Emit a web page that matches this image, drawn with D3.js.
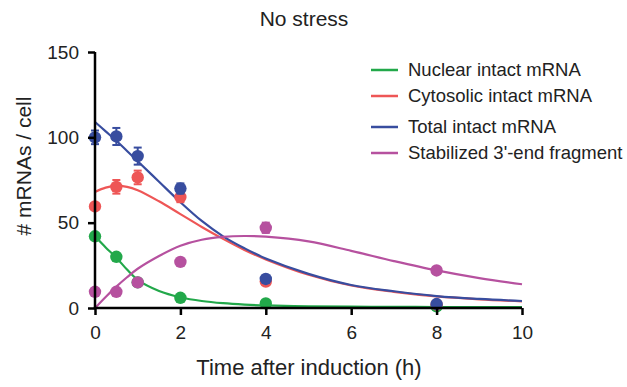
<!DOCTYPE html>
<html>
<head>
<script src="https://d3js.org/d3.v7.min.js"></script>
<style>
  body { margin: 0; background: #fff; }
  text { font-family: "Liberation Sans", Arial, sans-serif; fill: #222; }
</style>
</head>
<body>
<script>
// measured points
const timePoints = [0, 0.5, 1, 2, 4, 8];
const nuclear   = [42, 30, 15, 6, 2.7, 1];
const cytosolic = [59.5, 71, 76.5, 65, 15.5, 2];
const total     = [100, 100.5, 89, 70, 17, 2.3];
const fragment  = [9.5, 9.5, 15, 27, 47, 22];
const cytosolicErr = [2, 4, 4, 3, 1, 0];
const totalErr     = [4, 5, 5, 3, 1, 0];
const fragmentErr  = [0, 0, 0, 0, 3, 0];

// fitted curves
const curveTimes = [0, 0.25, 0.5, 0.75, 1, 1.5, 2, 2.5, 3, 3.5, 4, 5, 6, 7, 8, 9, 10];
const nuclearFit   = [42, 35.5, 29.5, 22.5, 16.5, 10, 6.3, 4.1, 2.8, 2, 1.5, 1.0, 0.8, 0.7, 0.6, 0.5, 0.5];
const cytosolicFit = [68, 70.5, 71.5, 71, 69, 62.5, 55, 47.5, 40.5, 34, 28.5, 19.5, 13.2, 9.5, 6.8, 5.1, 3.9];
const totalFit     = [109, 103.5, 98, 92, 86, 74, 62, 51, 42, 35, 29, 20, 13.5, 9.8, 7.0, 5.3, 4.1];
const fragmentFit  = [0, 6.5, 12.5, 18, 23, 30.5, 36.5, 40, 41.7, 42.2, 41.8, 39, 33.5, 27.5, 22, 17.5, 13.9];

const seriesNames = ["Nuclear intact mRNA", "Cytosolic intact mRNA", "Total intact mRNA", "Stabilized 3'-end fragment"];
const colors = ["#22a84a", "#ee5656", "#384d9f", "#b6519f"];
const xTicks = [0, 2, 4, 6, 8, 10];
const yTicks = [0, 50, 100, 150];

const width = 627, height = 387;
const svg = d3.select("body").append("svg")
  .attr("width", width).attr("height", height);

const x = d3.scaleLinear().domain([0, 10]).range([95, 522]);
const y = d3.scaleLinear().domain([0, 150]).range([308, 52]);

const series = [
  { fit: nuclearFit, pts: nuclear, err: null },
  { fit: cytosolicFit, pts: cytosolic, err: cytosolicErr },
  { fit: totalFit, pts: total, err: totalErr },
  { fit: fragmentFit, pts: fragment, err: fragmentErr }
];

const line = d3.line()
  .x(d => x(d[0])).y(d => y(d[1]))
  .curve(d3.curveCatmullRom);

// curves
series.forEach((s, i) => {
  svg.append("path")
    .datum(curveTimes.map((t, j) => [t, s.fit[j]]))
    .attr("d", line)
    .attr("fill", "none")
    .attr("stroke", colors[i])
    .attr("stroke-width", 2.2);
});

// error bars and dots
series.forEach((s, i) => {
  const g = svg.append("g");
  const pts = timePoints.map((t, j) => ({ t, v: s.pts[j], e: s.err ? s.err[j] : 0 }));
  const withErr = pts.filter(d => d.e > 1.5);
  g.selectAll("line.eb").data(withErr).join("line")
    .attr("x1", d => x(d.t)).attr("x2", d => x(d.t))
    .attr("y1", d => y(d.v - d.e)).attr("y2", d => y(d.v + d.e))
    .attr("stroke", colors[i]).attr("stroke-width", 2);
  [-1, 1].forEach(sgn => {
    g.selectAll("line.cap" + sgn).data(withErr).join("line")
      .attr("x1", d => x(d.t) - 4).attr("x2", d => x(d.t) + 4)
      .attr("y1", d => y(d.v + sgn * d.e)).attr("y2", d => y(d.v + sgn * d.e))
      .attr("stroke", colors[i]).attr("stroke-width", 2);
  });
  g.selectAll("circle").data(pts).join("circle")
    .attr("cx", d => x(d.t)).attr("cy", d => y(d.v))
    .attr("r", 6.2)
    .attr("fill", colors[i]);
});

// axes
const xAxis = svg.append("g")
  .attr("transform", `translate(0,${y(0)})`)
  .call(d3.axisBottom(x).tickValues(xTicks).tickSize(7).tickPadding(11));
const yAxis = svg.append("g")
  .attr("transform", `translate(${x(0)},0)`)
  .call(d3.axisLeft(y).tickValues(yTicks).tickSize(7).tickPadding(9));
[xAxis, yAxis].forEach(a => {
  a.select(".domain").attr("stroke", "#000").attr("stroke-width", 2.5);
  a.selectAll(".tick line").attr("stroke", "#000").attr("stroke-width", 2.5);
  a.selectAll(".tick text").attr("font-size", 19).attr("fill", "#222")
    .style("font-family", "Liberation Sans, Arial, sans-serif");
});
xAxis.select(".domain").attr("d", `M${x(0) - 1.25},0H${x(10)}`);
yAxis.select(".domain").attr("d", `M0,${y(0)}V${y(150)}`);

// titles
svg.append("text")
  .attr("x", 304).attr("y", 26)
  .attr("text-anchor", "middle").attr("font-size", 21)
  .text("No stress");
svg.append("text")
  .attr("x", 309).attr("y", 375)
  .attr("text-anchor", "middle").attr("font-size", 22)
  .text("Time after induction (h)");
svg.append("text")
  .attr("transform", "translate(31,166) rotate(-90)")
  .attr("text-anchor", "middle").attr("font-size", 21)
  .text("# mRNAs / cell");

// legend
const legendY = [70, 96, 127, 153];
const legend = svg.append("g");
seriesNames.forEach((name, i) => {
  legend.append("line")
    .attr("x1", 371).attr("x2", 398)
    .attr("y1", legendY[i]).attr("y2", legendY[i])
    .attr("stroke", colors[i]).attr("stroke-width", 2.5);
  legend.append("text")
    .attr("x", 408).attr("y", legendY[i])
    .attr("dy", "0.35em").attr("font-size", 18.5)
    .text(name);
});
</script>
</body>
</html>
